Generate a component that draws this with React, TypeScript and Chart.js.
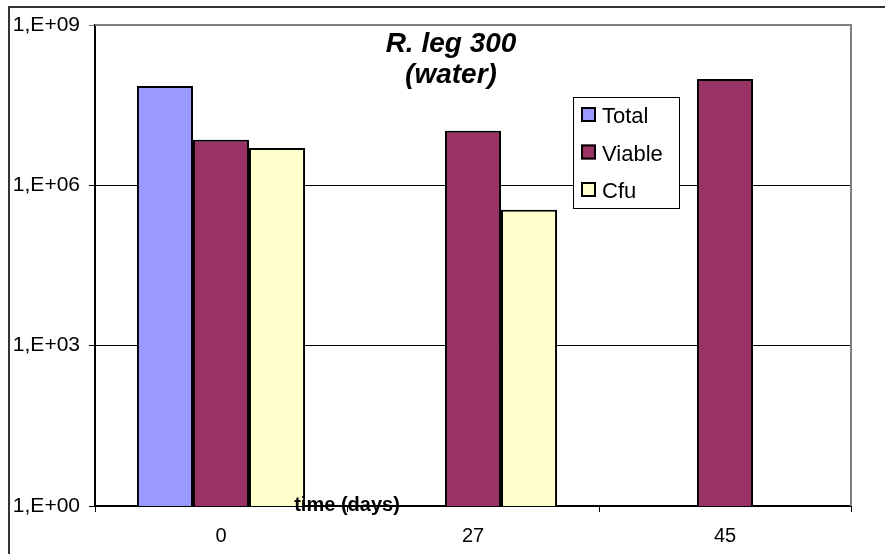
import React, { useEffect, useRef } from "react";
import { Chart, registerables } from "chart.js";

Chart.register(...registerables);

const categories = ["0", "27", "45"];
const totalValues = [7.2e7, null, null];
const viableValues = [7.1e6, 1.05e7, 9.8e7];
const cfuValues = [5.0e6, 3.5e5, null];
const yTickValues = [1, 1e3, 1e6, 1e9];
const yTickLabels = ["1,E+00", "1,E+03", "1,E+06", "1,E+09"];
const seriesNames = ["Total", "Viable", "Cfu"];
const seriesColors = ["#9999FF", "#993366", "#FFFFCC"];
const titleLines = ["R. leg 300", "(water)"];
const xAxisTitle = "time (days)";

const decorPlugin = {
  id: "decor",
  afterDraw(chart: any) {
    const ctx = chart.ctx;
    const a = chart.chartArea;
    ctx.save();
    // outer chart border
    ctx.strokeStyle = "#333333";
    ctx.lineWidth = 2;
    ctx.beginPath();
    ctx.moveTo(9, 560);
    ctx.lineTo(9, 7);
    ctx.lineTo(890, 7);
    ctx.stroke();
    // plot area top/right border
    ctx.strokeStyle = "#808080";
    ctx.lineWidth = 2;
    ctx.beginPath();
    ctx.moveTo(a.left, a.top);
    ctx.lineTo(a.right, a.top);
    ctx.lineTo(a.right, a.bottom);
    ctx.stroke();
    // title
    ctx.fillStyle = "#000";
    ctx.textAlign = "center";
    ctx.textBaseline = "alphabetic";
    ctx.font = "italic bold 28px Arial, 'Liberation Sans', sans-serif";
    ctx.fillText(titleLines[0], 451, 52);
    ctx.fillText(titleLines[1], 451, 83);
    // x axis title
    ctx.font = "bold 20px Arial, 'Liberation Sans', sans-serif";
    ctx.fillText(xAxisTitle, 347, 511);
    // legend
    const lx = 573, ly = 97, lw = 106, lh = 111;
    ctx.fillStyle = "#fff";
    ctx.fillRect(lx, ly, lw, lh);
    ctx.strokeStyle = "#000";
    ctx.lineWidth = 1;
    ctx.strokeRect(lx + 0.5, ly + 0.5, lw, lh);
    ctx.textAlign = "left";
    ctx.font = "22px Arial, 'Liberation Sans', sans-serif";
    chart.data.datasets.forEach((ds: any, i: number) => {
      const sy = 107 + i * 37.5;
      ctx.fillStyle = ds.backgroundColor;
      ctx.fillRect(581, sy, 15, 15);
      ctx.strokeStyle = "#000";
      ctx.lineWidth = 2;
      ctx.strokeRect(582, sy + 1, 13, 13);
      ctx.fillStyle = "#000";
      ctx.fillText(ds.label, 602, sy + 16);
    });
    ctx.restore();
  },
};

export default function App() {
  const ref = useRef<HTMLCanvasElement>(null);
  useEffect(() => {
    if (!ref.current) return;
    const datasets = [totalValues, viableValues, cfuValues].map((vals, i) => ({
      label: seriesNames[i],
      data: vals,
      backgroundColor: seriesColors[i],
      borderColor: "#000",
      borderWidth: 2,
      categoryPercentage: 0.667,
      barPercentage: 1,
    }));
    const chart = new Chart(ref.current, {
      type: "bar",
      data: { labels: categories, datasets },
      options: {
        animation: false,
        responsive: false,
        devicePixelRatio: 1,
        layout: { padding: { left: 0, top: 25, right: 34, bottom: 0 } },
        plugins: { legend: { display: false }, title: { display: false }, tooltip: { enabled: false } },
        scales: {
          x: {
            grid: {
              display: true,
              drawOnChartArea: false,
              drawTicks: true,
              tickLength: 6,
              offset: true,
              color: "#000",
            },
            border: { display: true, color: "#000", width: 2 },
            ticks: {
              color: "#000",
              padding: 12,
              font: { family: "Arial, 'Liberation Sans', sans-serif", size: 20 },
            },
            afterFit(scale: any) {
              scale.height = 48;
            },
          },
          y: {
            type: "logarithmic",
            min: 1,
            max: 1e9,
            afterBuildTicks(scale: any) {
              scale.ticks = yTickValues.map((v) => ({ value: v }));
            },
            grid: {
              color: (c: any) => (c.tick && c.tick.value === 1e9 ? "#808080" : "#000"),
              lineWidth: 1,
              tickLength: 6,
            },
            border: { display: true, color: "#000", width: 2 },
            ticks: {
              color: "#000",
              padding: 9,
              font: { family: "Arial, 'Liberation Sans', sans-serif", size: 21 },
              callback: (v: any) => {
                const idx = yTickValues.indexOf(Number(v));
                return idx >= 0 ? yTickLabels[idx] : "";
              },
            },
            afterFit(scale: any) {
              scale.width = 95;
            },
          },
        },
      },
      plugins: [decorPlugin],
    });
    return () => chart.destroy();
  }, []);
  return (
    <div style={{ position: "absolute", left: 0, top: 0, width: 885, height: 554, background: "#fff" }}>
      <canvas ref={ref} width={885} height={554} style={{ display: "block" }} />
    </div>
  );
}
